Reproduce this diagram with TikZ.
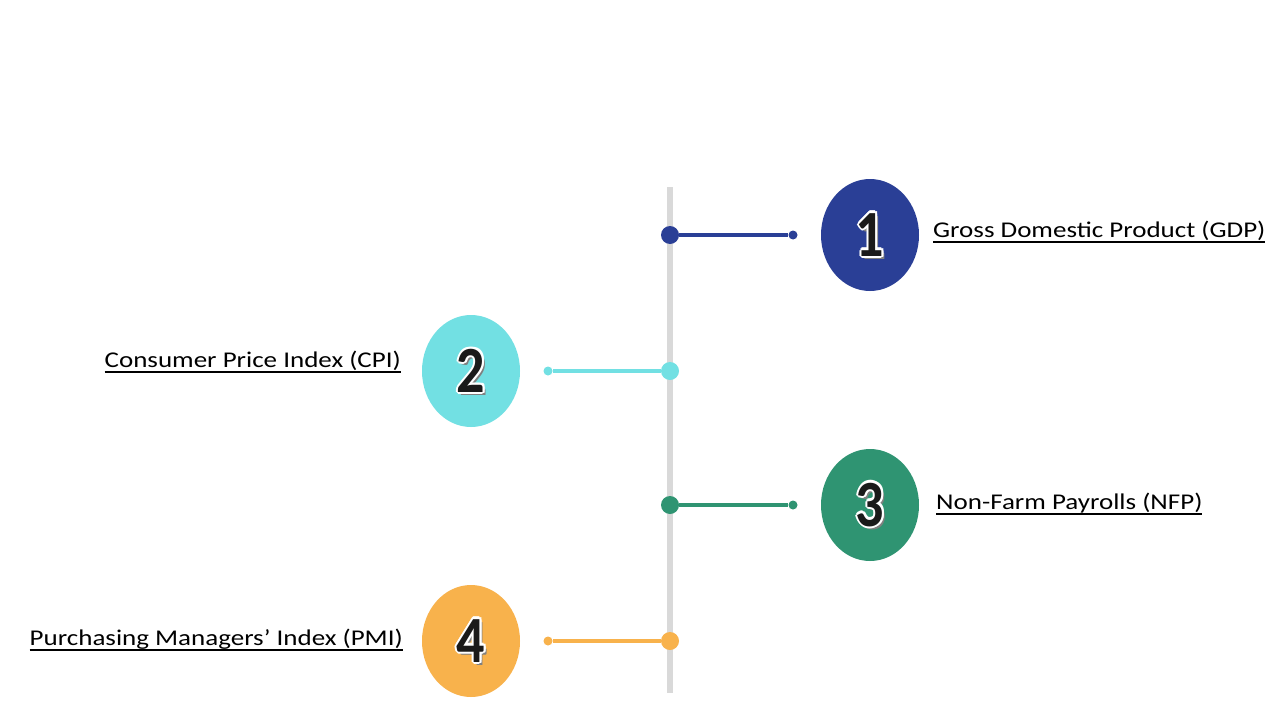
\documentclass[tikz,border=0pt]{standalone}
\usepackage{fontspec}
\setmainfont{Carlito}[FakeStretch=1.2]
\newfontfamily\digitfont{Carlito}[FakeStretch=0.85]
\usetikzlibrary{shapes.geometric}
\definecolor{spinegray}{HTML}{D9D9D9}
\definecolor{cone}{HTML}{2A3F96}
\definecolor{ctwo}{HTML}{72E0E3}
\definecolor{cthree}{HTML}{2F9472}
\definecolor{cfour}{HTML}{F8B24C}
\definecolor{digitblack}{HTML}{1A1A1A}
\newcommand\halo[1]{%
  \setbox0=\hbox{#1}%
  \rlap{\color{gray}\kern3pt\lower3pt\copy0}%
  \rlap{\color{white}\kern2.2pt\copy0}%
  \rlap{\color{white}\kern-2.2pt\copy0}%
  \rlap{\color{white}\raise2.2pt\copy0}%
  \rlap{\color{white}\lower2.2pt\copy0}%
  \rlap{\color{white}\kern1.6pt\raise1.6pt\copy0}%
  \rlap{\color{white}\kern-1.6pt\raise1.6pt\copy0}%
  \rlap{\color{white}\kern1.6pt\lower1.6pt\copy0}%
  \rlap{\color{white}\kern-1.6pt\lower1.6pt\copy0}%
  {\color{digitblack}\box0}}
\newcommand\ulabel[1]{%
  \setbox1=\hbox{#1}%
  \rlap{\rule[-5.5pt]{\wd1}{1.9pt}}\box1}
\begin{document}
\begin{tikzpicture}[x=1pt,y=-1pt,
  spine/.style={line width=6pt, draw=spinegray},
  conn/.style={line width=4pt},
  bigdot/.style={circle, inner sep=0pt, minimum size=18pt},
  smalldot/.style={circle, inner sep=0pt, minimum size=9pt},
  badge/.style={ellipse, minimum width=98pt, minimum height=112pt, inner sep=0pt,
    font=\digitfont\bfseries\fontsize{66}{66}\selectfont},
  label/.style={font=\fontsize{22.5}{26}\selectfont, inner sep=0pt, text=black}]
\fill[white] (0,0) rectangle (1280,720);
\useasboundingbox (0,0) rectangle (1280,720);
% spine
\coordinate (top) at (670,187);
\coordinate (bot) at (670,693);
\draw[spine] (top) -- (bot);
% row 1
\node[bigdot, fill=cone] (d1) at (670,235) {};
\node[smalldot, fill=cone] (e1) at (793,235) {};
\draw[conn, cone] (d1) -- (e1);
\node[badge, fill=cone] (b1) at (870,235) {\halo{1}};
\node[label, anchor=base west] (t1) at (933,237) {\ulabel{Gross Domestic Product (GDP)}};
% row 2
\node[bigdot, fill=ctwo] (d2) at (670,371) {};
\node[smalldot, fill=ctwo] (e2) at (548,371) {};
\draw[conn, ctwo] (d2) -- (e2);
\node[badge, fill=ctwo] (b2) at (471,371) {\halo{2}};
\node[label, anchor=base east] (t2) at (401,367) {\ulabel{Consumer Price Index (CPI)}};
% row 3
\node[bigdot, fill=cthree] (d3) at (670,505) {};
\node[smalldot, fill=cthree] (e3) at (793,505) {};
\draw[conn, cthree] (d3) -- (e3);
\node[badge, fill=cthree] (b3) at (870,505) {\halo{3}};
\node[label, anchor=base west] (t3) at (936,509) {\ulabel{Non-Farm Payrolls (NFP)}};
% row 4
\node[bigdot, fill=cfour] (d4) at (670,641) {};
\node[smalldot, fill=cfour] (e4) at (548,641) {};
\draw[conn, cfour] (d4) -- (e4);
\node[badge, fill=cfour] (b4) at (471,641) {\halo{4}};
\node[label, anchor=base east] (t4) at (403,645) {\ulabel{Purchasing Managers’ Index (PMI)}};
\end{tikzpicture}
\end{document}
